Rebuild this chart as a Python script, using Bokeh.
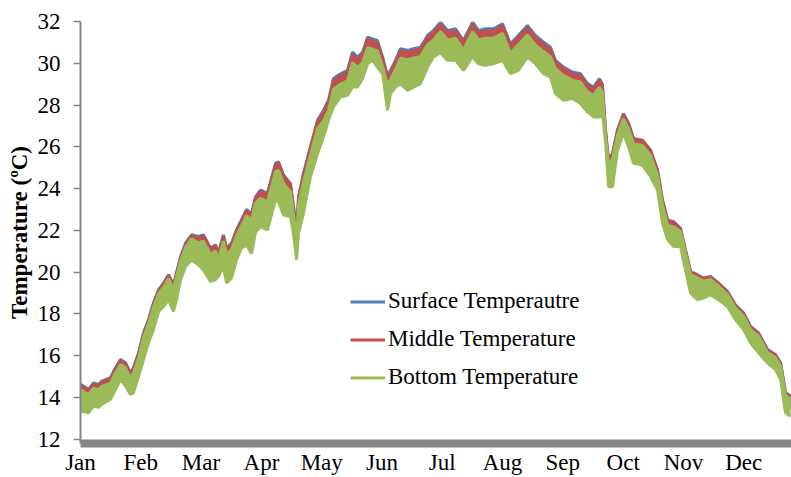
from bokeh.plotting import figure
from bokeh.models import Range1d, FixedTicker, Legend, LegendItem, ColumnDataSource
from bokeh.embed import file_html
from bokeh.resources import INLINE

# ---------------- data ----------------
months = ["Jan", "Feb", "Mar", "Apr", "May", "Jun", "Jul", "Aug", "Sep", "Oct", "Nov", "Dec"]
month_start_day = [0, 30.4, 60.8, 91.3, 121.7, 152.1, 182.5, 212.9, 243.3, 273.8, 304.2, 334.6]
y_ticks = [12, 14, 16, 18, 20, 22, 24, 26, 28, 30, 32]

day = [0.0, 4.0, 6.6, 9.1, 10.6, 15.1, 17.7, 20.2, 22.7, 25.2, 26.7, 29.3,
       31.8, 34.3, 36.8, 39.4, 41.9, 44.4, 46.9, 48.4, 50.5, 53.0, 56.0,
       59.5, 62.0, 65.6, 68.1, 69.6, 72.1, 73.7, 76.2, 78.7, 81.2, 83.7, 86.3, 88.3,
       90.8, 94.3, 98.4, 99.9, 102.4, 105.9, 107.5, 109.0, 110.0, 112.5, 116.0, 119.6,
       122.6, 125.1, 127.6, 131.2, 134.7, 137.2, 139.8, 142.3, 144.8, 147.3, 149.8,
       152.4, 154.9, 156.4, 158.9, 161.4, 165.0, 168.0, 171.5, 175.1, 178.1, 181.6,
       185.2, 189.2, 193.2, 197.8, 200.8, 204.3, 208.4, 212.9, 216.9, 220.9, 225.5,
       229.5, 233.6, 237.1,
       239.6, 243.7, 248.2, 252.2, 255.8, 258.8, 261.8, 263.3, 264.9,
       266.4, 268.4, 270.9, 273.9, 276.5, 279.0, 283.5, 287.6, 291.1, 293.6, 296.2, 299.2,
       302.7, 305.2, 307.8, 311.3, 314.3, 317.8, 321.9, 326.4, 330.4, 334.5, 338.0,
       342.1, 346.6, 350.6, 353.2, 355.7, 358.2]

surface_max = [14.63, 14.39, 14.70, 14.63, 14.78, 14.94, 15.44, 15.82, 15.67, 15.18, 15.42, 16.14,
               17.09, 17.73, 18.53, 19.16, 19.48, 19.88, 19.40, 19.96, 20.75, 21.39, 21.79,
               21.71, 21.79, 21.15, 21.31, 20.91, 21.79, 21.15, 21.39, 22.02, 22.50, 23.00, 22.80, 23.60,
               23.93, 23.77, 25.21, 25.28, 24.65, 24.25, 23.14, 21.90, 23.61, 24.73, 26.00, 27.27,
               27.75, 28.23, 29.27, 29.50, 29.66, 30.53, 30.30, 30.53, 31.25, 31.17, 31.09,
               30.30, 29.42, 29.66, 30.14, 30.70, 30.62, 30.70, 30.77, 31.33, 31.57, 31.97,
               31.57, 31.65, 31.09, 31.97, 31.57, 31.65, 31.65, 31.89, 30.93, 31.33, 31.81,
               31.33, 31.01, 30.77,
               30.14, 29.82, 29.58, 29.50, 29.03, 28.86, 29.26, 29.00, 26.80,
               25.37, 25.68, 26.80, 27.59, 27.12, 26.40, 26.32, 25.84, 24.89, 23.46, 22.50, 22.42,
               22.10, 21.07, 20.03, 19.88, 19.72, 19.80, 19.48, 19.08, 18.44, 18.05, 17.41,
               17.09, 16.30, 16.06, 15.66, 14.23, 14.07]

surface_min = [13.70, 13.62, 13.94, 13.88, 14.02, 14.26, 14.74, 15.21, 14.90, 14.50, 14.58, 15.37,
               16.17, 16.97, 17.60, 18.47, 18.71, 19.03, 18.47, 19.03, 19.99, 20.62, 20.94,
               20.70, 20.46, 19.91, 19.99, 20.15, 20.62, 19.83, 20.07, 20.94, 21.50, 21.65, 21.25, 22.25,
               22.53, 22.37, 23.81, 23.72, 23.09, 23.01, 22.15, 20.95, 22.22, 23.17, 24.92, 26.03,
               26.83, 27.62, 28.26, 28.74, 28.82, 29.21, 29.21, 29.61, 30.33, 30.49, 30.17,
               29.85, 28.10, 28.90, 29.21, 29.38, 29.05, 29.21, 29.38, 30.17, 30.65, 30.85,
               30.49, 30.49, 30.01, 30.65, 30.33, 30.25, 30.33, 30.49, 29.85, 30.01, 30.65,
               30.33, 29.85, 29.69,
               28.90, 28.58, 28.66, 28.42, 28.02, 27.78, 27.78, 27.95, 26.45,
               24.44, 24.44, 26.19, 26.99, 26.35, 25.56, 25.48, 24.92, 24.28, 22.69, 21.90, 21.58,
               21.58, 20.46, 19.35, 19.03, 19.11, 19.27, 19.03, 18.71, 18.08, 17.60, 16.97,
               16.49, 16.01, 15.69, 15.21, 13.62, 13.46]

middle_max = [14.58, 14.34, 14.65, 14.58, 14.73, 14.89, 15.39, 15.77, 15.62, 15.13, 15.37, 16.09,
              17.04, 17.68, 18.48, 19.11, 19.43, 19.83, 19.35, 19.91, 20.70, 21.34, 21.74,
              21.66, 21.74, 21.10, 21.26, 20.86, 21.74, 21.10, 21.34, 21.97, 22.45, 22.95, 22.75, 23.55,
              23.88, 23.72, 25.16, 25.23, 24.60, 24.20, 23.09, 21.85, 23.56, 24.68, 25.95, 27.22,
              27.65, 28.13, 29.17, 29.40, 29.56, 30.43, 30.20, 30.43, 31.15, 31.07, 30.99,
              30.20, 29.32, 29.56, 30.04, 30.60, 30.52, 30.60, 30.67, 31.23, 31.47, 31.87,
              31.47, 31.55, 30.99, 31.87, 31.47, 31.55, 31.55, 31.79, 30.83, 31.23, 31.71,
              31.23, 30.91, 30.67,
              30.06, 29.74, 29.50, 29.42, 28.95, 28.78, 29.18, 28.92, 26.72,
              25.34, 25.65, 26.77, 27.56, 27.09, 26.37, 26.29, 25.81, 24.86, 23.43, 22.47, 22.39,
              22.07, 21.04, 20.00, 19.85, 19.69, 19.77, 19.45, 19.05, 18.41, 18.02, 17.38,
              17.06, 16.27, 16.03, 15.63, 14.20, 14.04]

middle_min = [13.65, 13.57, 13.89, 13.83, 13.97, 14.21, 14.69, 15.16, 14.85, 14.45, 14.53, 15.32,
              16.12, 16.92, 17.55, 18.42, 18.66, 18.98, 18.42, 18.98, 19.94, 20.57, 20.89,
              20.65, 20.41, 19.86, 19.94, 20.10, 20.57, 19.78, 20.02, 20.89, 21.45, 21.60, 21.20, 22.20,
              22.48, 22.32, 23.76, 23.67, 23.04, 22.96, 22.10, 20.90, 22.17, 23.12, 24.87, 25.98,
              26.78, 27.57, 28.21, 28.69, 28.77, 29.16, 29.16, 29.56, 30.28, 30.44, 30.12,
              29.80, 28.05, 28.85, 29.16, 29.33, 29.00, 29.16, 29.33, 30.12, 30.60, 30.80,
              30.44, 30.44, 29.96, 30.60, 30.28, 30.20, 30.28, 30.44, 29.80, 29.96, 30.60,
              30.28, 29.80, 29.64,
              28.85, 28.53, 28.61, 28.37, 27.97, 27.73, 27.73, 27.90, 26.40,
              24.39, 24.39, 26.14, 26.94, 26.30, 25.51, 25.43, 24.87, 24.23, 22.64, 21.85, 21.53,
              21.53, 20.41, 19.30, 18.98, 19.06, 19.22, 18.98, 18.66, 18.03, 17.55, 16.92,
              16.44, 15.96, 15.64, 15.16, 13.57, 13.41]

bottom_max = [14.38, 14.14, 14.45, 14.38, 14.53, 14.69, 15.19, 15.57, 15.42, 14.93, 15.17, 15.89,
              16.89, 17.53, 18.33, 18.96, 19.28, 19.68, 19.20, 19.76, 20.55, 21.19, 21.59,
              21.41, 21.49, 20.85, 21.01, 20.61, 21.49, 20.85, 21.09, 21.72, 22.20, 22.70, 22.50, 23.30,
              23.53, 23.37, 24.81, 24.88, 24.25, 23.85, 22.74, 21.50, 23.21, 24.33, 25.60, 26.87,
              27.25, 27.73, 28.77, 29.00, 29.16, 30.03, 29.80, 30.03, 30.75, 30.67, 30.59,
              29.85, 28.97, 29.21, 29.69, 30.25, 30.17, 30.25, 30.32, 30.88, 31.12, 31.52,
              31.12, 31.20, 30.64, 31.52, 31.12, 31.20, 31.20, 31.44, 30.48, 30.88, 31.36,
              30.88, 30.56, 30.32,
              29.74, 29.42, 29.18, 29.10, 28.63, 28.46, 28.86, 28.60, 26.50,
              25.12, 25.43, 26.55, 27.34, 26.87, 26.15, 26.07, 25.59, 24.64, 23.21, 22.25, 22.17,
              21.95, 20.92, 19.88, 19.73, 19.57, 19.65, 19.33, 18.93, 18.29, 17.90, 17.26,
              16.94, 16.15, 15.91, 15.51, 14.08, 13.92]

bottom_min = [13.35, 13.27, 13.59, 13.53, 13.67, 13.91, 14.39, 14.86, 14.55, 14.15, 14.23, 15.02,
              15.82, 16.62, 17.25, 18.12, 18.36, 18.68, 18.12, 18.68, 19.64, 20.27, 20.59,
              20.35, 20.11, 19.56, 19.64, 19.80, 20.27, 19.48, 19.72, 20.59, 21.15, 21.30, 20.90, 21.90,
              22.18, 22.02, 23.46, 23.37, 22.74, 22.66, 21.80, 20.60, 21.87, 22.82, 24.57, 25.68,
              26.48, 27.27, 27.91, 28.39, 28.47, 28.86, 28.86, 29.26, 29.98, 30.14, 29.82,
              29.50, 27.75, 28.55, 28.86, 29.03, 28.70, 28.86, 29.03, 29.82, 30.30, 30.50,
              30.14, 30.14, 29.66, 30.30, 29.98, 29.90, 29.98, 30.14, 29.50, 29.66, 30.30,
              29.98, 29.50, 29.34,
              28.55, 28.23, 28.31, 28.07, 27.67, 27.43, 27.43, 27.60, 26.20,
              24.09, 24.09, 25.84, 26.64, 26.00, 25.21, 25.13, 24.57, 23.93, 22.34, 21.55, 21.23,
              21.23, 20.11, 19.00, 18.68, 18.76, 18.92, 18.68, 18.36, 17.73, 17.25, 16.62,
              16.14, 15.66, 15.34, 14.86, 13.27, 13.11]

series_names = ["Surface Temperautre", "Middle Temperature", "Bottom Temperature"]
series_colors = ["#4F81BD", "#C0504D", "#9BBB59"]

# ---------------- figure ----------------
FONT = "Liberation Serif"
GREY = "#868686"

p = figure(width=791, height=477, output_backend="svg", toolbar_location=None,
           x_range=Range1d(0, 358.7), y_range=Range1d(11.8, 32),
           min_border_left=80, min_border_right=0, min_border_top=21, min_border_bottom=33,
           background_fill_color="white", border_fill_color="white")
p.outline_line_color = None
p.xgrid.visible = False
p.ygrid.visible = False

src = ColumnDataSource(dict(day=day, s_hi=surface_max, s_lo=surface_min,
                            m_hi=middle_max, m_lo=middle_min,
                            b_hi=bottom_max, b_lo=bottom_min))

renderers = []
for (lo, hi), col in zip([("s_lo", "s_hi"), ("m_lo", "m_hi"), ("b_lo", "b_hi")], series_colors):
    p.varea(x="day", y1=lo, y2=hi, source=src, fill_color=col)
    r = p.line(x="day", y=hi, source=src, line_color=col, line_width=3)
    renderers.append(r)
# soft stroke on the lower edge of the bottom series (as in the original line drawing)
p.line(x="day", y="b_lo", source=src, line_color=series_colors[2], line_width=3)

# y axis
yax = p.yaxis[0]
yax.ticker = FixedTicker(ticks=y_ticks)
yax.axis_line_color = GREY
yax.axis_line_width = 2
yax.major_tick_line_color = GREY
yax.major_tick_line_width = 1.5
yax.major_tick_out = 7
yax.major_tick_in = 0
yax.minor_tick_line_color = None
yax.major_label_text_font = FONT
yax.major_label_text_font_size = "23px"
yax.major_label_text_color = "#000000"
yax.major_label_standoff = 13
yax.axis_label = "Temperature (ºC)"
yax.axis_label_text_font = FONT
yax.axis_label_text_font_style = "bold"
yax.axis_label_text_font_size = "23px"
yax.axis_label_text_color = "#000000"
yax.axis_label_standoff = 3

# x axis
xax = p.xaxis[0]
xax.ticker = FixedTicker(ticks=month_start_day)
xax.major_label_overrides = {t: m for t, m in zip(month_start_day, months)}
xax.axis_line_color = GREY
xax.axis_line_width = 8
xax.major_tick_line_color = None
xax.major_tick_out = 0
xax.major_tick_in = 0
xax.minor_tick_line_color = None
xax.major_label_text_font = FONT
xax.major_label_text_font_size = "23px"
xax.major_label_text_color = "#000000"
xax.major_label_standoff = 6

legend = Legend(items=[LegendItem(label=n, renderers=[r]) for n, r in zip(series_names, renderers)],
                location=(270, 53), padding=0, margin=0, spacing=12,
                glyph_width=35, glyph_height=25, label_height=25, label_standoff=3,
                label_text_font=FONT, label_text_font_size="23px", label_text_color="#000000",
                border_line_color=None, background_fill_alpha=0)
p.add_layout(legend)

open("out.html", "w").write(file_html(p, INLINE))
